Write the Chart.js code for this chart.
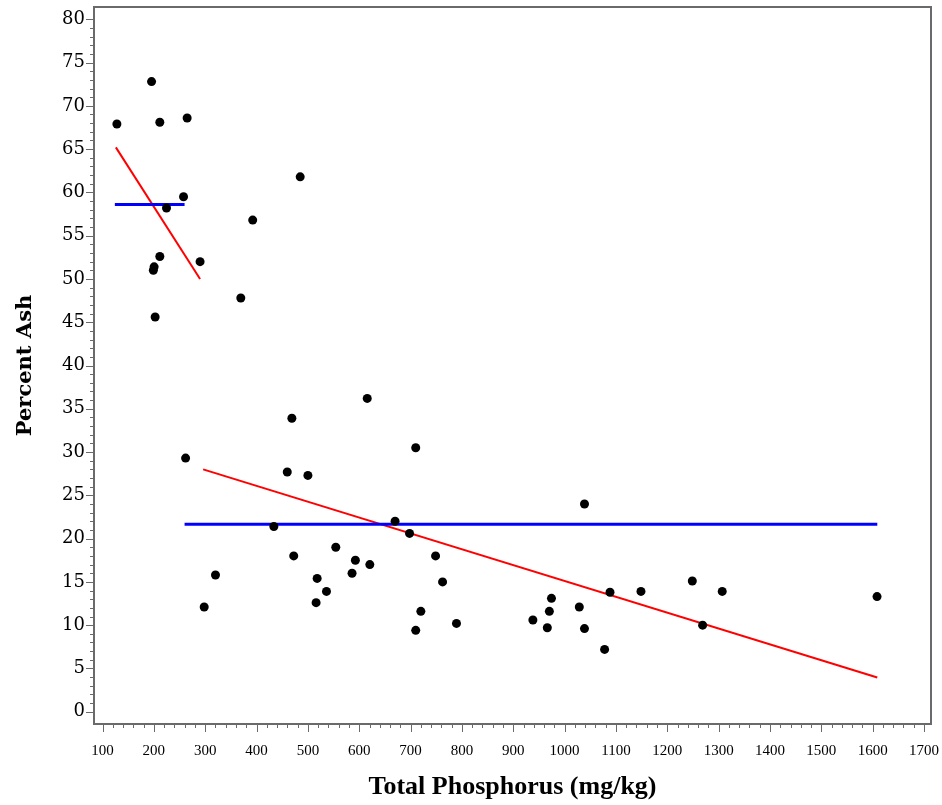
<!DOCTYPE html>
<html>
<head>
    <title>Percent Ash vs Total Phosphorus</title>
    <script src="https://cdn.jsdelivr.net/npm/chart.js"></script>
    <style>
        html, body { margin: 0; padding: 0; background: #fff; }
        #wrap { width: 942px; height: 805px; }
    </style>
</head>
<body>
    <div id="wrap"><canvas id="ashChart" width="942" height="805"></canvas></div>
    <script>
        // observed samples
        const phosphorus = [128, 195.5, 211.6, 264.8, 257.8, 224.6, 211.6, 200.5, 199, 290,
            202.5, 369.3, 392.5, 485, 261.8, 298, 320, 468.8, 459.8, 500,
            433.7, 472.4, 518, 516, 615.6, 710, 1038.7, 669.8, 698, 554.3,
            592.5, 620.6, 748.7, 586, 536.2, 762.3, 720, 710, 789.4, 938.2,
            970.3, 974.4, 966.3, 1028.6, 1038.7, 1088.4, 1148.7, 1248.7, 1307, 1268.8,
            1608.5, 1077.9];
        const ash = [67.9, 72.8, 68.1, 68.6, 59.5, 58.2, 52.6, 51.4, 51.0, 52.0,
            45.6, 47.8, 56.8, 61.8, 29.3, 12.1, 15.8, 33.9, 27.7, 27.3,
            21.4, 18.0, 15.4, 12.6, 36.2, 30.5, 24.0, 22.0, 20.6, 19.0,
            17.5, 17.0, 18.0, 16.0, 13.9, 15.0, 11.6, 9.4, 10.2, 10.6,
            11.6, 13.1, 9.7, 12.1, 9.6, 13.8, 13.9, 15.1, 13.9, 10.0,
            13.3, 7.2];

        // segment means (blue) and fitted lines (red)
        const lowMeanX = [124, 259.8];
        const lowMeanY = [58.6, 58.6];
        const lowFitX = [126, 290];
        const lowFitY = [65.2, 50.0];
        const highMeanX = [259.8, 1609];
        const highMeanY = [21.65, 21.65];
        const highFitX = [296, 1609];
        const highFitY = [28.0, 3.96];

        // axis ticks
        const xTicks = [100, 200, 300, 400, 500, 600, 700, 800, 900, 1000, 1100, 1200, 1300, 1400, 1500, 1600, 1700];
        const yTicks = [0, 5, 10, 15, 20, 25, 30, 35, 40, 45, 50, 55, 60, 65, 70, 75, 80];

        const toPoints = (xs, ys) => xs.map((x, i) => ({ x: x, y: ys[i] }));

        const segment = (xs, ys, color, width) => ({
            type: 'line',
            data: toPoints(xs, ys),
            borderColor: color,
            borderWidth: width,
            pointRadius: 0,
            fill: false,
            tension: 0,
        });

        // frame box plus major/minor tick marks outside it
        const frameTicks = {
            id: 'frameTicks',
            afterDraw(chart) {
                const ctx = chart.ctx;
                const a = chart.chartArea;
                const xs = chart.scales.x;
                const ys = chart.scales.y;
                ctx.save();
                ctx.strokeStyle = '#6a6a6a';
                ctx.lineWidth = 1;
                for (let v = 100; v <= 1700; v += 20) {
                    const px = Math.round(xs.getPixelForValue(v)) + 0.5;
                    const len = v % 100 === 0 ? 8 : 4;
                    ctx.beginPath();
                    ctx.moveTo(px, a.bottom);
                    ctx.lineTo(px, a.bottom + len);
                    ctx.stroke();
                }
                for (let v = 0; v <= 80; v += 1) {
                    const py = Math.round(ys.getPixelForValue(v)) + 0.5;
                    const len = v % 5 === 0 ? 8 : 4;
                    ctx.beginPath();
                    ctx.moveTo(a.left, py);
                    ctx.lineTo(a.left - len, py);
                    ctx.stroke();
                }
                ctx.lineWidth = 2;
                ctx.strokeRect(a.left, a.top, a.right - a.left, a.bottom - a.top);
                ctx.restore();
            }
        };

        new Chart(document.getElementById('ashChart').getContext('2d'), {
            type: 'scatter',
            data: {
                datasets: [
                    {
                        data: toPoints(phosphorus, ash),
                        backgroundColor: '#000',
                        borderWidth: 0,
                        pointRadius: 4.5,
                    },
                    segment(lowMeanX, lowMeanY, '#0000ff', 3),
                    segment(highMeanX, highMeanY, '#0000ff', 3),
                    segment(lowFitX, lowFitY, '#ff0000', 2),
                    segment(highFitX, highFitY, '#ff0000', 2),
                ],
            },
            options: {
                responsive: false,
                animation: false,
                layout: { padding: { top: 7, right: 11, left: 0, bottom: 0 } },
                plugins: {
                    legend: { display: false },
                    tooltip: { enabled: false },
                },
                scales: {
                    x: {
                        type: 'linear',
                        min: 83.4,
                        max: 1713.6,
                        afterBuildTicks: (scale) => { scale.ticks = xTicks.map(v => ({ value: v })); },
                        afterFit: (scale) => {
                            scale.height = 81;
                            scale.paddingLeft = 0;
                            scale.paddingRight = 0;
                        },
                        grid: { display: false, drawTicks: false },
                        border: { display: false },
                        ticks: {
                            autoSkip: false,
                            maxRotation: 0,
                            padding: 18,
                            color: '#000',
                            font: { family: 'Liberation Serif', size: 15 },
                            callback: (v) => String(v),
                        },
                        title: {
                            display: true,
                            text: 'Total Phosphorus (mg/kg)',
                            color: '#000',
                            padding: { top: 0, bottom: 2 },
                            font: { family: 'Liberation Serif', size: 26, weight: 'bold' },
                        },
                    },
                    y: {
                        type: 'linear',
                        min: -1.42,
                        max: 81.42,
                        afterBuildTicks: (scale) => { scale.ticks = yTicks.map(v => ({ value: v })); },
                        afterFit: (scale) => {
                            scale.width = 94;
                            scale.paddingTop = 0;
                            scale.paddingBottom = 0;
                        },
                        grid: { display: false, drawTicks: false },
                        border: { display: false },
                        ticks: {
                            autoSkip: false,
                            padding: 9,
                            color: '#000',
                            font: { family: 'DejaVu Serif', size: 18 },
                            callback: (v) => String(v),
                        },
                        title: {
                            display: true,
                            text: 'Percent Ash',
                            color: '#000',
                            padding: { top: 13, bottom: 0 },
                            font: { family: 'DejaVu Serif', size: 21, weight: 'bold' },
                        },
                    },
                },
            },
            plugins: [frameTicks],
        });
    </script>
</body>
</html>
